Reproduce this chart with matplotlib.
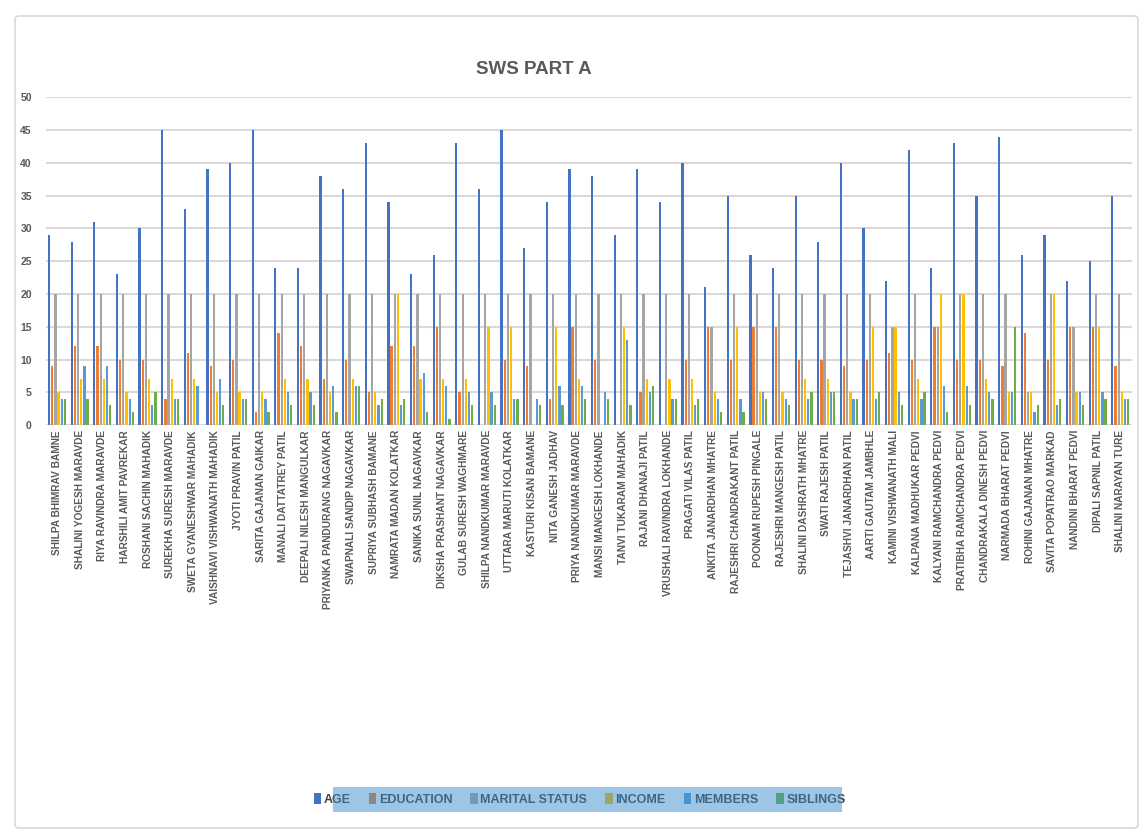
import matplotlib.pyplot as plt
import numpy as np
from matplotlib.patches import Rectangle, FancyBboxPatch

names = ["SHILPA BHIMRAV BAMNE", "SHALINI YOGESH MARAVDE", "RIYA RAVINDRA MARAVDE",
         "HARSHILI AMIT PAVREKAR", "ROSHANI SACHIN MAHADIK", "SUREKHA SURESH MARAVDE",
         "SWETA GYANESHWAR MAHADIK", "VAISHNAVI VISHWANATH MAHADIK", "JYOTI PRAVIN PATIL",
         "SARITA GAJANAN GAIKAR", "MANALI DATTATREY PATIL", "DEEPALI NILESH MANGULKAR",
         "PRIYANKA PANDURANG NAGAVKAR", "SWAPNALI SANDIP NAGAVKAR", "SUPRIYA SUBHASH BAMANE",
         "NAMRATA MADAN KOLATKAR", "SANIKA SUNIL NAGAVKAR", "DIKSHA PRASHANT NAGAVKAR",
         "GULAB SURESH WAGHMARE", "SHILPA NANDKUMAR MARAVDE", "UTTARA MARUTI KOLATKAR",
         "KASTURI KISAN BAMANE", "NITA GANESH JADHAV", "PRIYA NANDKUMAR MARAVDE",
         "MANSI MANGESH LOKHANDE", "TANVI TUKARAM MAHADIK", "RAJANI DHANAJI PATIL",
         "VRUSHALI RAVINDRA LOKHANDE", "PRAGATI VILAS PATIL", "ANKITA JANARDHAN MHATRE",
         "RAJESHRI CHANDRAKANT PATIL", "POONAM RUPESH PINGALE", "RAJESHRI MANGESH PATIL",
         "SHALINI DASHRATH MHATRE", "SWATI RAJESH PATIL", "TEJASHVI JANARDHAN PATIL",
         "AARTI GAUTAM JAMBHLE", "KAMINI VISHWANATH MALI", "KALPANA MADHUKAR PEDVI",
         "KALYANI RAMCHANDRA PEDVI", "PRATIBHA RAMCHANDRA PEDVI", "CHANDRAKALA DINESH PEDVI",
         "NARMADA BHARAT PEDVI", "ROHINI GAJANAN MHATRE", "SAVITA POPATRAO MARKAD",
         "NANDINI BHARAT PEDVI", "DIPALI SAPNIL PATIL", "SHALINI NARAYAN TURE"]

age = [29, 28, 31, 23, 30, 45, 33, 39, 40, 45, 24, 24,
       38, 36, 43, 34, 23, 26, 43, 36, 45, 27, 34, 39,
       38, 29, 39, 34, 40, 21, 35, 26, 24, 35, 28, 40,
       30, 22, 42, 24, 43, 35, 44, 26, 29, 22, 25, 35]
education = [9, 12, 12, 10, 10, 4, 11, 9, 10, 2, 14, 12,
             7, 10, 5, 12, 12, 15, 5, 0, 10, 9, 4, 15,
             10, 0, 5, 0, 10, 15, 10, 15, 15, 10, 10, 9,
             10, 11, 10, 15, 10, 10, 9, 14, 10, 15, 15, 9]
marital = [20, 20, 20, 20, 20, 20, 20, 20, 20, 20, 20, 20,
           20, 20, 20, 20, 20, 20, 20, 20, 20, 20, 20, 20,
           20, 20, 20, 20, 20, 15, 20, 20, 20, 20, 20, 20,
           20, 15, 20, 15, 20, 20, 20, 5, 20, 15, 20, 20]
income = [5, 7, 7, 5, 7, 7, 7, 5, 5, 5, 7, 7,
          5, 7, 5, 20, 7, 7, 7, 15, 15, 0, 15, 7,
          0, 15, 7, 7, 7, 5, 15, 5, 5, 7, 7, 5,
          15, 15, 7, 20, 20, 7, 5, 5, 20, 5, 15, 5]
members = [4, 9, 9, 4, 3, 4, 6, 7, 4, 4, 5, 5,
           6, 6, 3, 3, 8, 6, 5, 5, 4, 4, 6, 6,
           5, 13, 5, 4, 3, 4, 4, 5, 4, 4, 5, 4,
           4, 5, 4, 6, 6, 5, 5, 2, 3, 5, 5, 4]
siblings = [4, 4, 3, 2, 5, 4, 0, 3, 4, 2, 3, 3,
            2, 6, 4, 4, 2, 1, 3, 3, 4, 3, 3, 4,
            4, 3, 6, 4, 4, 2, 2, 4, 3, 5, 5, 4,
            5, 3, 5, 2, 3, 4, 15, 3, 4, 3, 4, 4]

series = ["AGE", "EDUCATION", "MARITAL STATUS", "INCOME", "MEMBERS", "SIBLINGS"]
colors = ["#4472C4", "#ED7D31", "#A5A5A5", "#FFC000", "#5B9BD5", "#70AD47"]
values = [age, education, marital, income, members, siblings]

fig = plt.figure(figsize=(11.43, 8.32), dpi=100)
ax = fig.add_axes([0.040, 0.489, 0.950, 0.394])

x = np.arange(len(names))
step = 0.14
for i, (lab, col, v) in enumerate(zip(series, colors, values)):
    ax.bar(x + (i - 2.5) * step, v, width=0.10, color=col, label=lab, zorder=3)

ax.set_xlim(-0.5, len(names) - 0.5)
ax.set_ylim(0, 50)
ax.set_yticks(range(0, 51, 5))
ax.yaxis.grid(True, color="#D9D9D9", linewidth=1.5, zorder=0)
ax.set_axisbelow(True)
for s in ax.spines.values():
    s.set_visible(False)
ax.tick_params(length=0)
ax.tick_params(axis="y", pad=10)
ax.set_xticks(x)
ax.set_xticklabels(names, rotation=90, fontsize=7.3, fontweight="bold",
                   color="#595959", family=["Liberation Sans", "DejaVu Sans"])
for t in ax.get_yticklabels():
    t.set_fontsize(7.5)
    t.set_fontweight("bold")
    t.set_color("#595959")
    t.set_family(["Liberation Sans", "DejaVu Sans"])

fig.text(0.467, 0.916, "SWS PART A", ha="center", va="center", fontsize=13.5,
         fontweight="bold", color="#595959",
         family=["Liberation Sans", "DejaVu Sans"])

leg = fig.legend(loc="center", bbox_to_anchor=(0.507, 0.039), ncol=6, frameon=False,
                 handlelength=0.6, handleheight=0.9, handletextpad=0.2,
                 columnspacing=1.45,
                 prop={"family": ["Liberation Sans", "DejaVu Sans"],
                       "weight": "bold", "size": 9})
for t in leg.get_texts():
    t.set_color("#404040")

# selection-like highlight over the legend
fig.add_artist(Rectangle((333 / 1143, 1 - 812 / 832), (842 - 333) / 1143, 25 / 832,
                         transform=fig.transFigure, facecolor="#3C8CCC", alpha=0.5,
                         edgecolor="none", zorder=10))

# chart border
fig.add_artist(FancyBboxPatch((15 / 1143, 4 / 832), 1123 / 1143, 812 / 832,
                              boxstyle="round,pad=0,rounding_size=0.004",
                              transform=fig.transFigure, facecolor="none",
                              edgecolor="#D9D9D9", linewidth=1.2, zorder=0))

plt.savefig("out.png", dpi=100)
